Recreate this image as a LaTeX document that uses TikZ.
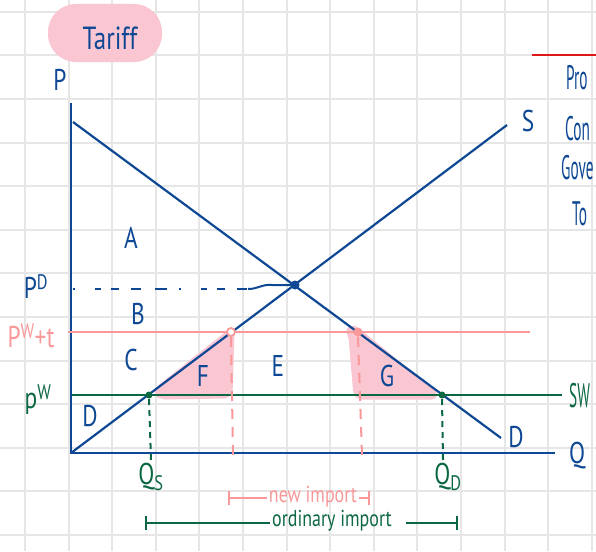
\documentclass[tikz,border=0pt]{standalone}
\usepackage{fontspec}
\setmainfont[FakeStretch=0.78]{PT Sans}
\newfontfamily\narrowhand[FakeStretch=0.45]{PT Sans}
\usetikzlibrary{arrows.meta}
\definecolor{navy}{RGB}{14,72,148}
\definecolor{dgreen}{RGB}{12,104,66}
\definecolor{salmon}{RGB}{248,152,152}
\definecolor{blush}{RGB}{249,198,210}
\definecolor{gridgray}{RGB}{230,230,230}
\definecolor{redline}{RGB}{222,24,24}
\begin{document}
\begin{tikzpicture}[x=1pt,y=-1pt,
  gridline/.style={draw=gridgray,line width=2pt},
  bluel/.style={draw=navy,line width=2.2pt},
  greenl/.style={draw=dgreen,line width=2.2pt},
  pinkl/.style={draw=salmon,line width=2.2pt},
  greendash/.style={draw=dgreen,line width=2pt,dash pattern=on 6pt off 5pt},
  pinkdash/.style={draw=salmon,line width=2pt,dash pattern=on 10pt off 8pt},
  blob/.style={fill=blush,draw=blush,line width=7pt,rounded corners=5pt,line join=round},
  lab/.style={font=\fontsize{30}{30}\selectfont,inner sep=0pt},
  small/.style={font=\fontsize{23}{23}\selectfont,inner sep=2pt},
  side/.style={font=\narrowhand\fontsize{34}{34}\selectfont,inner sep=0pt,anchor=west,text=navy}]
\useasboundingbox (0,0) rectangle (596,551);
\clip (0,0) rectangle (596,551);
\fill[white] (0,0) rectangle (596,551);
% grid
\foreach \i in {0,...,13} \draw[gridline] ({25+43.6*\i},0) -- ({25+43.6*\i},551);
\foreach \j in {0,...,12} \draw[gridline] (0,{11.7+43.6*\j}) -- (596,{11.7+43.6*\j});
% key points
\coordinate (O) at (71,453);
\coordinate (Ytop) at (71,103);
\coordinate (Xend) at (555,453);
\coordinate (Dtop) at (73,122);
\coordinate (Dend) at (501,438);
\coordinate (Send) at (507,125);
\coordinate (Eq) at (295,285);
\coordinate (PDa) at (73,289);
\coordinate (PDb) at (248,289);
\coordinate (PTa) at (68,332);
\coordinate (PTb) at (530,332);
\coordinate (PWa) at (72,395);
\coordinate (PWb) at (562,395);
\coordinate (Sa) at (231,332);
\coordinate (Sb) at (149,395);
\coordinate (Da) at (358,332);
\coordinate (Db) at (442,395);
% pink shaded areas
\path[blob] (158,390) -- (Sa) -- (229,395) -- (160,396) -- cycle;
\path[blob] (352,336) .. controls (349,330) and (352,328) .. (Da) -- (436,396) -- (357,396) -- cycle;
% Tariff title
\node[fill=blush,rounded corners=28pt,minimum width=114pt,minimum height=58pt,inner sep=0pt] (tblob) at (105,33) {};
\node[font=\fontsize{32}{32}\selectfont,text=navy,inner sep=0pt] (title) at (110,38) {Tariff};
% axes
\draw[bluel] (Ytop) -- (O) -- (Xend);
% demand and supply
\draw[bluel] (Dtop) -- (Dend);
\draw[bluel] (O) -- (Send);
% price lines
\draw[pinkl] (PTa) -- (PTb);
\draw[greenl] (PWa) -- (PWb);
\draw[navy,line width=2pt,dash pattern=on 2pt off 20pt on 6pt off 10pt on 8pt off 12pt on 10pt off 14pt on 12pt off 12pt] (PDa) -- (PDb);
\draw[navy,line width=2pt] (PDb) .. controls (258,289) and (262,284) .. (272,285) -- (Eq);
% dashed verticals
\draw[greendash] (Sb) ++(0,4) -- (151,460);
\draw[pinkdash] (Sa) ++(0,5) -- (233,455);
\draw[pinkdash] (Da) ++(0,5) -- (362,455);
\draw[greendash] (Db) ++(0,4) -- (443,460);
% dots
\fill[navy] (Eq) circle (4.5pt);
\draw[salmon,line width=1.8pt,fill=white] (Sa) circle (4pt);
\fill[salmon] (Da) circle (4.5pt);
\fill[dgreen] (Sb) circle (3.5pt);
\fill[dgreen] (Db) circle (3.5pt);
% axis labels
\node[lab,text=navy] (lP) at (60,80) {P};
\node[lab,text=navy] (lQ) at (577,456) {Q};
\node[lab,text=navy] (lS) at (528,121) {S};
\node[lab,text=navy] (lD) at (516,437) {D};
\node[lab,text=navy] (lPD) at (36,287) {P\textsuperscript{D}};
\node[lab,text=salmon] (lPT) at (31,336) {P\textsuperscript{W}+t};
\node[lab,text=dgreen] (lPW) at (38,400) {p\textsuperscript{W}};
\node[side,text=dgreen] (lSW) at (569,396) {SW};
% area labels
\node[lab,text=navy] (aA) at (131,238) {A};
\node[lab,text=navy] (aB) at (138,314) {B};
\node[lab,text=navy] (aC) at (131,360) {C};
\node[lab,text=navy] (aD) at (90,416) {D};
\node[lab,text=navy] (aE) at (278,366) {E};
\node[lab,text=navy] (aF) at (203,376) {F};
\node[lab,text=navy] (aG) at (387,376) {G};
% quantities
\node[lab,text=dgreen] (lQS) at (151,477) {Q\textsubscript{S}};
\node[lab,text=dgreen] (lQD) at (448,477) {Q\textsubscript{D}};
% import brackets
\coordinate (nl) at (228,498);
\coordinate (nr) at (370,498);
\node[small,text=salmon] (ni) at (313,497) {new import};
\draw[salmon,line width=1.6pt,{Bar[width=14pt]}-] (nl) -- (ni.west |- nl);
\draw[salmon,line width=1.6pt,-{Bar[width=14pt]}] (ni.east |- nr) -- (nr);
\coordinate (ol) at (145,523);
\coordinate (or) at (458,523);
\node[small,text=dgreen] (oi) at (332,521) {ordinary import};
\draw[dgreen,line width=2pt,{Bar[width=14pt]}-] (ol) -- (oi.west |- ol);
\draw[dgreen,line width=2pt,-{Bar[width=14pt]}] ([xshift=12pt]oi.east |- or) -- (or);
% right side notes
\draw[redline,line width=2.2pt] (532,55) -- (600,55);
\node[side] (n1) at (566,78) {Pro};
\node[side] (n2) at (565,129) {Con};
\node[side] (n3) at (561,168) {Gove};
\node[side] (n4) at (572,214) {To};
\end{tikzpicture}
\end{document}
